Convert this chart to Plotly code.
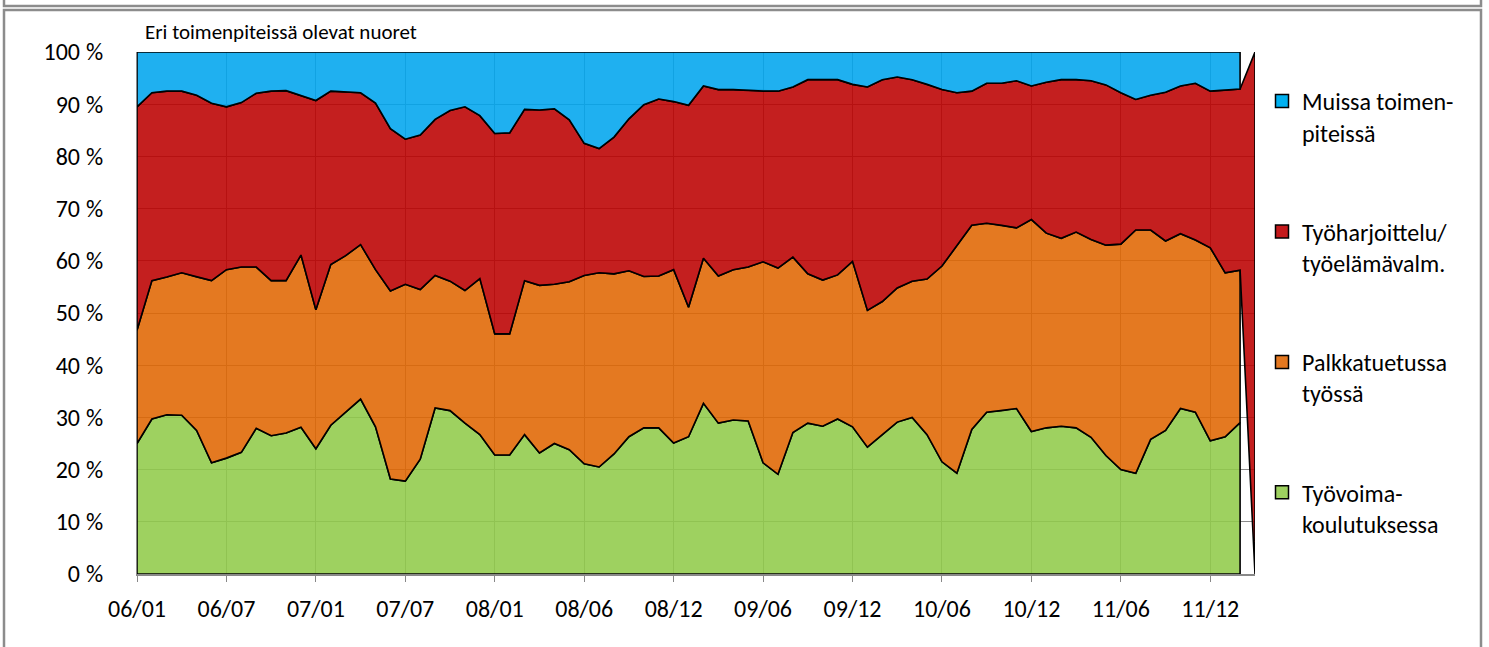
import plotly.graph_objects as go

# ---- data (shares in %, per period) ----
periods = ["06/01","06/02","06/03","06/04","06/05","06/06","06/07","06/08","06/09","06/10","06/11","06/12",
           "07/01","07/02","07/03","07/04","07/05","07/06","07/07","07/08","07/09","07/10","07/11","07/12",
           "08/01","08/01b","08/02","08/03","08/04","08/05","08/06","08/07","08/08","08/09","08/10","08/11",
           "08/12","09/01","09/02","09/03","09/04","09/05","09/06","09/07","09/08","09/09","09/10","09/11",
           "09/12","10/01","10/02","10/03","10/04","10/05","10/06","10/07","10/08","10/09","10/10","10/11",
           "10/12","11/01","11/02","11/03","11/04","11/05","11/06","11/07","11/08","11/09","11/10","11/11",
           "11/12","12/01","12/02","12/03"]

tyovoimakoulutus = [25.0,29.7,30.5,30.4,27.5,21.3,22.2,23.3,27.9,26.5,27.0,28.1,
                    24.0,28.5,31.0,33.5,28.2,18.2,17.8,22.0,31.8,31.3,28.9,26.7,
                    22.8,22.8,26.7,23.2,25.0,23.8,21.1,20.5,23.0,26.3,28.0,28.0,
                    25.1,26.3,32.7,28.9,29.5,29.3,21.3,19.1,27.1,28.9,28.3,29.7,
                    28.2,24.3,26.7,29.1,30.0,26.7,21.5,19.3,27.7,31.0,31.3,31.7,
                    27.3,28.0,28.3,28.0,26.2,22.7,20.0,19.3,25.8,27.5,31.7,31.0,
                    25.5,26.3,29.0,None]
palkkatuettu = [21.7,26.5,26.4,27.3,29.4,34.9,36.1,35.5,30.9,29.7,29.2,33.0,
                26.6,30.8,30.0,29.6,30.1,36.0,37.7,32.5,25.4,24.8,25.4,29.9,
                23.2,23.2,29.5,32.1,30.5,32.2,36.1,37.2,34.5,31.8,29.0,29.1,
                33.2,24.8,27.8,28.2,28.8,29.5,38.5,39.5,33.6,28.6,28.0,27.6,
                31.7,26.2,25.5,25.7,26.1,29.8,37.5,43.6,39.1,36.2,35.5,34.6,
                40.6,37.3,36.0,37.5,37.9,40.3,43.2,46.6,40.1,36.3,33.5,33.0,
                37.0,31.4,29.2,None]
tyoharjoittelu = [42.8,36.0,35.6,34.8,34.8,34.0,31.2,31.5,33.3,36.3,36.4,30.6,
                  40.1,33.2,31.3,29.1,31.9,31.1,27.8,29.6,29.9,32.7,35.2,31.2,
                  38.4,38.5,32.8,33.6,33.6,31.0,25.3,23.8,26.2,29.1,32.9,33.9,
                  32.2,38.7,33.0,35.7,34.5,33.9,32.7,33.9,32.6,37.2,38.4,37.4,
                  33.9,42.8,42.5,40.4,38.6,37.3,33.8,29.3,25.7,26.8,27.2,28.2,
                  25.6,28.9,30.4,29.2,30.4,30.7,29.0,25.0,25.8,28.5,28.3,30.0,
                  30.0,35.0,34.7,100.0]
muut = [10.5,7.8,7.5,7.5,8.3,9.8,10.5,9.7,7.9,7.5,7.4,8.3,
        9.3,7.5,7.7,7.8,9.8,14.7,16.7,15.9,12.9,11.2,10.5,12.2,
        15.6,15.5,11.0,11.1,10.9,13.0,17.5,18.5,16.3,12.8,10.1,9.0,
        9.5,10.2,6.5,7.2,7.2,7.3,7.5,7.5,6.7,5.3,5.3,5.3,
        6.2,6.7,5.3,4.8,5.3,6.2,7.2,7.8,7.5,6.0,6.0,5.5,
        6.5,5.8,5.3,5.3,5.5,6.3,7.8,9.1,8.3,7.7,6.5,6.0,
        7.5,7.3,7.1,None]

series_names = ["Työvoima-<br>koulutuksessa", "Palkkatuetussa<br>työssä",
                "Työharjoittelu/<br>työelämävalm.", "Muissa toimen-<br>piteissä"]
series_values = [tyovoimakoulutus, palkkatuettu, tyoharjoittelu, muut]
series_colors = ["rgba(145,203,74,0.88)", "rgba(224,102,2,0.88)",
                 "rgba(188,0,0,0.88)", "rgba(0,165,238,0.88)"]
legend_colors = ["#9ED160", "#E47820", "#C4191B", "#00B0F0"]

tick_every = 6
FONT = "Carlito, Lato, 'Open Sans', sans-serif"

# ---- percent stacking ----
n = len(periods)
x_idx = list(range(n))
totals = [sum(v[i] or 0 for v in series_values) for i in range(n)]
fig = go.Figure()
base = [0.0] * n
for name, vals, col in zip(series_names, series_values, series_colors):
    pts = [i for i in range(n) if vals[i] is not None]
    lower = [base[i] for i in pts]
    upper = [base[i] + vals[i] / totals[i] * 100 for i in pts]
    xs = pts + pts[::-1]
    ys = upper + lower[::-1]
    fig.add_trace(go.Scatter(x=xs + [xs[0]], y=ys + [ys[0]], fill="toself", fillcolor=col,
                             mode="lines", line=dict(color="black", width=1.6),
                             hoverinfo="skip", showlegend=False))
    for i in range(n):
        base[i] += (vals[i] or 0) / totals[i] * 100

# legend entries, top to bottom
for name, lcol in reversed(list(zip(series_names, legend_colors))):
    fig.add_trace(go.Scatter(x=[None], y=[None], mode="markers", name=name,
                             legendgroup=name,
                             marker=dict(symbol="square", size=13, color=lcol,
                                         line=dict(color="black", width=1.5))))

# ---- layout ----
L, R, T, B = 137, 1489 - 1255, 52, 647 - 574
W, H = 1489, 647
pw, ph = W - L - R, H - T - B
def px(x):
    return (x - L) / pw
def py(y):
    return (H - B - y) / ph

fig.update_layout(
    width=W, height=H,
    margin=dict(l=L, r=R, t=T, b=B),
    paper_bgcolor="white", plot_bgcolor="white",
    font=dict(family=FONT, color="black"),
    showlegend=True,
    legend=dict(x=px(1262), y=py(79), xanchor="left", yanchor="top",
                traceorder="grouped", tracegroupgap=65, valign="top",
                font=dict(size=24, family=FONT), itemwidth=30,
                bgcolor="rgba(0,0,0,0)"),
    xaxis=dict(range=[0, n - 1], tickmode="array",
               tickvals=x_idx[::tick_every], ticktext=periods[::tick_every],
               showgrid=True, gridcolor="#8a8a8a", gridwidth=1,
               showline=True, linecolor="#888888", linewidth=2,
               ticks="outside", ticklen=6, tickcolor="#888888",
               ticklabelstandoff=6,
               tickfont=dict(size=24, family=FONT), zeroline=False),
    yaxis=dict(range=[0, 100], dtick=10, ticksuffix="\u2005%",
               showgrid=True, gridcolor="#8a8a8a", gridwidth=1,
               showline=True, linecolor="#888888", linewidth=1,
               ticks="", ticklabelstandoff=28,
               tickfont=dict(size=24, family=FONT), zeroline=False),
    annotations=[dict(text="Eri toimenpiteissä olevat nuoret", xref="paper", yref="paper",
                      x=px(143), y=py(32), xanchor="left", yanchor="middle",
                      showarrow=False, font=dict(size=21, family=FONT))],
    shapes=[
        dict(type="rect", xref="paper", yref="paper", x0=px(4), x1=px(1481),
             y0=py(10), y1=py(680), line=dict(color="#8c8c8c", width=2.5)),
        dict(type="rect", xref="paper", yref="paper", x0=px(4), x1=px(1481),
             y0=py(-20), y1=py(6), line=dict(color="#8c8c8c", width=2.5)),
    ],
)

fig.write_html("out.html", config={"displayModeBar": False},
               post_script="document.body.style.margin='0';")
